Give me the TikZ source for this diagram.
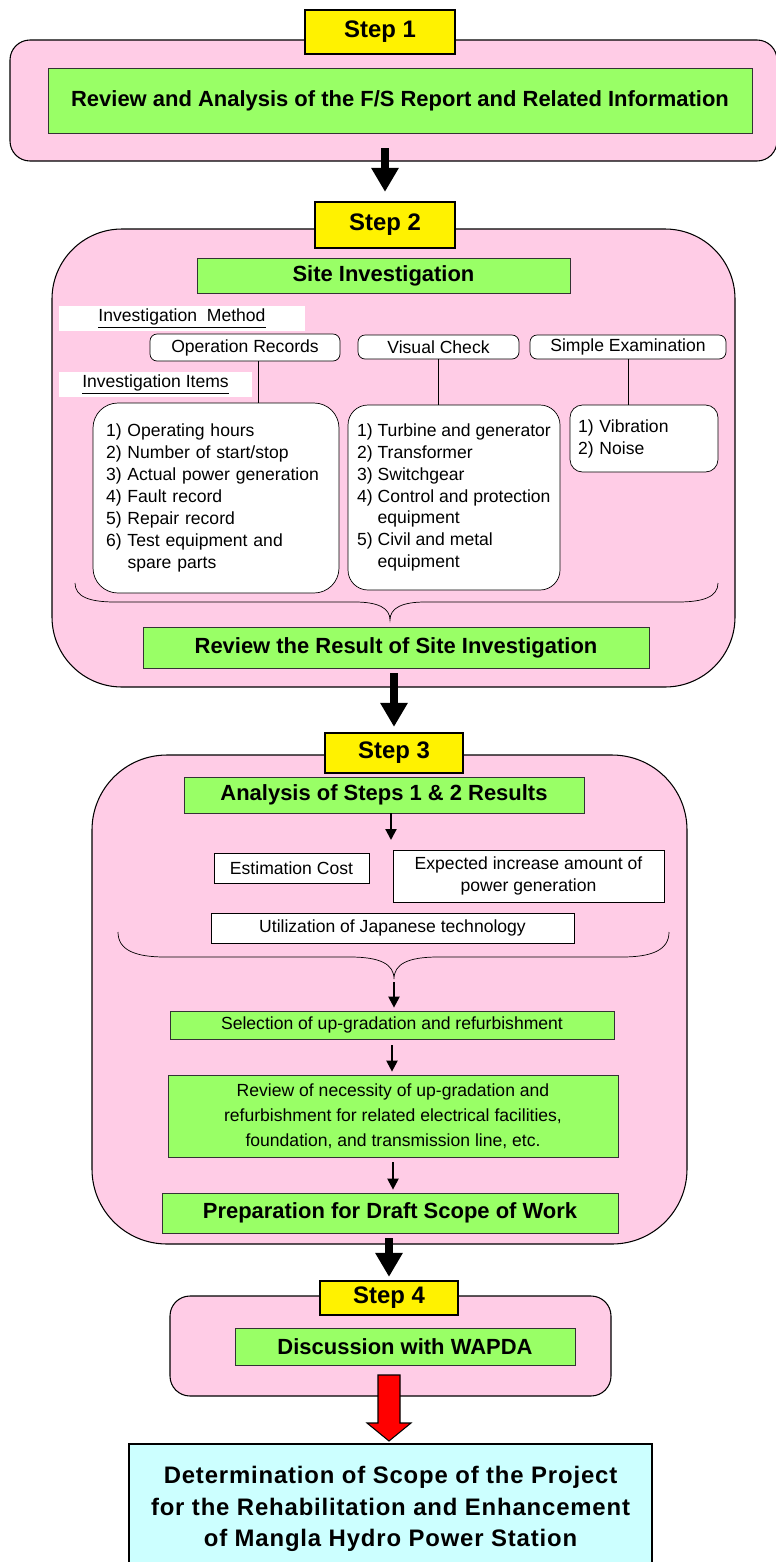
\documentclass[tikz,border=0pt]{standalone}
\usepackage{fontspec}
\setmainfont{Liberation Sans}
\newfontfamily\spacedsf{Liberation Sans}[LetterSpace=3.5]
\usetikzlibrary{arrows.meta,calc}
\definecolor{stepPink}{RGB}{255,204,230}
\definecolor{stepGreen}{RGB}{153,255,102}
\definecolor{stepCyan}{RGB}{204,255,255}

\begin{document}
\begin{tikzpicture}[x=0.02cm, y=-0.02cm,
    wh/.style 2 args={minimum width=#1*0.02cm, minimum height=#2*0.02cm},
    stepbg/.style={draw, fill=stepPink, line width=0.6pt},
    steplabel/.style={draw, line width=1.3pt, fill=yellow, inner sep=0pt,
      font=\bfseries\fontsize{13.6pt}{16pt}\selectfont},
    headbox/.style={draw=black!80, fill=stepGreen, inner sep=0pt,
      font=\bfseries\fontsize{12.5pt}{15pt}\selectfont},
    greenbox/.style={draw=black!80, fill=stepGreen, inner sep=0pt, align=center,
      font=\fontsize{10pt}{14.2pt}\selectfont},
    tag/.style={fill=white, inner sep=0pt, font=\fontsize{10pt}{12pt}\selectfont},
    method/.style={draw, fill=white, rounded corners=4pt, inner sep=0pt,
      font=\fontsize{10pt}{12pt}\selectfont},
    itembox/.style={draw, fill=white, align=left, inner sep=0pt,
      font=\fontsize{10pt}{12.47pt}\selectfont},
    factor/.style={draw, fill=white, inner sep=0pt, align=center,
      font=\fontsize{10pt}{12.5pt}\selectfont},
    bigarrow/.style={-{Triangle[width=0.52cm,length=0.48cm]}, line width=0.16cm},
    smallarrow/.style={-{Triangle[width=0.22cm,length=0.22cm]}, line width=1.2pt}]

  \useasboundingbox (0,0) rectangle (775,1562);

  % Step 1
  \draw[stepbg, rounded corners=0.4cm] (10,40) rectangle (777,161);
  \node[steplabel, wh={150}{44}] (lbl1) at (380,32) {Step 1};
  \node[headbox, wh={704}{65}] (g1) at (400,100.5)
    {Review and Analysis of the F/S Report and Related Information};

  % Step 2
  \draw[stepbg, rounded corners=1.4cm] (52,229) rectangle (735,687);
  \node[steplabel, wh={140}{46}] (lbl2) at (385,225) {Step 2};
  \draw[bigarrow, shorten <=0.3cm, shorten >=0.18cm] (g1.south -| lbl2.north) -- (lbl2.north);

  \node[headbox, wh={373}{35}] (g2) at (383.5,275.5) {Site Investigation};
  \node[tag, wh={246}{25}] (mth) at (182,318.5) {\underline{Investigation\ \ Method}};
  \node[method, wh={190}{27}] (rec) at (245,347.5) {Operation Records};
  \node[method, wh={161}{24}] (vis) at (438.5,347) {Visual Check};
  \node[method, wh={196}{24}] (sim) at (628,347) {Simple Examination};
  \node[tag, wh={193}{25}] (itm) at (155.5,384.5) {\underline{Investigation Items}};

  \node[itembox, rounded corners=0.5cm, wh={246}{190}, text width=4.4cm, inner xsep=0.26cm]
    (box1) at (216,498) {1) Operating hours\\2) Number of start/stop\\3) Actual power generation\\
      4) Fault record\\5) Repair record\\6) Test equipment and\\\hphantom{6)~}spare parts};
  \node[itembox, rounded corners=0.4cm, wh={212}{185}] (box2) at (454,497.5)
    {1) Turbine and generator\\2) Transformer\\3) Switchgear\\4) Control and protection\\
      \hphantom{4)~}equipment\\5) Civil and metal\\\hphantom{5)~}equipment};
  \node[itembox, rounded corners=0.25cm, wh={148}{67}, text width=2.64cm, inner xsep=0.16cm]
    (box3) at (644,438.5) {1) Vibration\\2) Noise};

  \coordinate (recdrop) at ([xshift=0.26cm]rec.south);
  \draw (recdrop) -- (recdrop |- box1.north);
  \draw (vis.south) -- (vis.south |- box2.north);
  \draw (sim.south) -- (sim.south |- box3.north);

  % brace
  \coordinate (tip1) at (390,620);
  \draw (75,583) .. controls (75,597) and (90,602) .. (115,602) -- (355,602)
    .. controls (378,602) and (390,608) .. (tip1)
    .. controls (390,608) and (402,602) .. (425,602) -- (678,602)
    .. controls (703,602) and (718,597) .. (718,583);

  \node[headbox, wh={506}{41}] (g3) at (396,647.5) {Review the Result of Site Investigation};

  % Step 3
  \draw[stepbg, rounded corners=1.5cm] (92,755) rectangle (687,1244);
  \node[steplabel, wh={138}{40}] (lbl3) at (394,753) {Step 3};
  \draw[bigarrow, shorten <=0.1cm, shorten >=0.1cm] (g3.south -| lbl3.north) -- (lbl3.north);

  \node[headbox, wh={400}{36}] (g4) at (384,795) {Analysis of Steps 1 \& 2 Results};
  \coordinate (a4) at (391,840);
  \draw[smallarrow] (g4.south -| a4) -- (a4);

  \node[factor, wh={155}{30}] (est) at (291.5,868) {Estimation Cost};
  \node[factor, wh={271}{52}] (exp) at (528.5,876) {Expected increase amount of\\power generation};
  \node[factor, wh={363}{30}] (jap) at (392.5,928) {Utilization of Japanese technology};

  \coordinate (tip2) at (394,979);
  \draw (118,932) .. controls (118,950) and (135,957) .. (165,957) -- (350,957)
    .. controls (380,957) and (394,964) .. (tip2)
    .. controls (394,964) and (408,957) .. (438,957) -- (622,957)
    .. controls (652,957) and (669,950) .. (669,932);

  \node[greenbox, wh={444}{28}] (sel) at (392,1025) {Selection of up-gradation and refurbishment};
  \draw[smallarrow, shorten <=0.06cm, shorten >=0.06cm] (tip2) -- (tip2 |- sel.north);
  \node[greenbox, wh={450}{82}] (nec) at (393,1116)
    {Review of necessity of up-gradation and\\refurbishment for related electrical facilities,\\
      foundation, and transmission line, etc.};
  \draw[smallarrow, shorten <=0.12cm, shorten >=0.06cm] (sel.south) -- (sel.south |- nec.north);
  \node[headbox, wh={456}{40}] (prep) at (390,1213) {Preparation for Draft Scope of Work};
  \draw[smallarrow, shorten <=0.1cm, shorten >=0.06cm] (nec.south) -- (nec.south |- prep.north);

  % Step 4
  \draw[stepbg, rounded corners=0.4cm] (170,1296) rectangle (611,1396);
  \node[steplabel, wh={138}{34}] (lbl4) at (389,1298) {Step 4};
  \draw[bigarrow, shorten <=0.1cm, shorten >=0.06cm] (prep.south -| lbl4.north) -- (lbl4.north);
  \node[headbox, wh={340}{37}] (g5) at (405,1346.5) {Discussion with WAPDA};

  \coordinate (rtop) at (389,1375);
  \draw[fill=red, line width=0.6pt] (rtop) ++(-11,0) -- ++(22,0) -- ++(0,48) -- ++(11,0)
    -- ++(-22,18) -- ++(-22,-18) -- ++(11,0) -- cycle;

  \node[draw, line width=1.3pt, fill=stepCyan, wh={523}{130}, align=center, inner sep=0pt,
    font=\spacedsf\bfseries\fontsize{13.6pt}{18.1pt}\selectfont] (fin) at (390.5,1509)
    {Determination of Scope of the Project\\for the Rehabilitation and Enhancement\\
      of Mangla Hydro Power Station};
\end{tikzpicture}
\end{document}
